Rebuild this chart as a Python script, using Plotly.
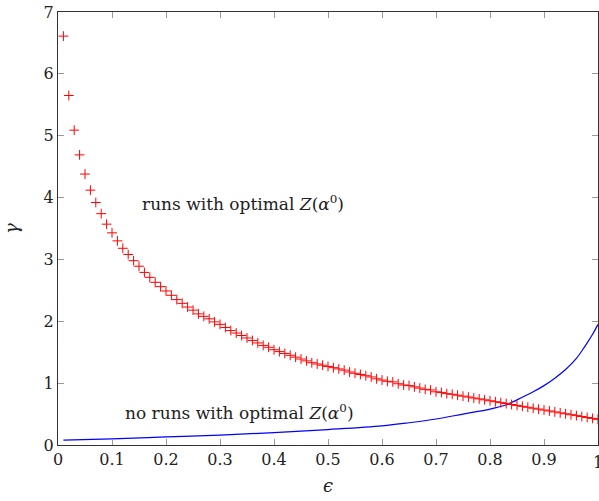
import plotly.graph_objects as go

# red "+" markers: epsilon = 0.01 ... 1.00
eps_runs = [round(0.01 * k, 2) for k in range(1, 101)]
gamma_runs = [
    6.61, 5.65, 5.09, 4.69, 4.38, 4.12, 3.92, 3.74, 3.57, 3.43,
    3.30, 3.18, 3.08, 2.98, 2.89, 2.79, 2.71, 2.63, 2.56, 2.49,
    2.42, 2.35, 2.29, 2.23, 2.18, 2.12, 2.08, 2.04, 1.99, 1.95,
    1.90, 1.85, 1.81, 1.77, 1.73, 1.69, 1.65, 1.61, 1.58, 1.54,
    1.51, 1.48, 1.45, 1.42, 1.39, 1.36, 1.33, 1.31, 1.29, 1.27,
    1.25, 1.23, 1.21, 1.18, 1.16, 1.14, 1.12, 1.10, 1.07, 1.05,
    1.03, 1.02, 0.99, 0.97, 0.96, 0.94, 0.92, 0.90, 0.89, 0.86,
    0.85, 0.83, 0.82, 0.805, 0.79, 0.775, 0.76, 0.745, 0.73, 0.715,
    0.70, 0.685, 0.67, 0.655, 0.64, 0.625, 0.61, 0.595, 0.58, 0.565,
    0.55, 0.535, 0.52, 0.505, 0.49, 0.475, 0.46, 0.445, 0.43, 0.415,
]

# blue boundary curve
eps_curve = [0.01, 0.1, 0.2, 0.3, 0.4, 0.5, 0.6, 0.65, 0.7, 0.75, 0.8, 0.83,
             0.85, 0.88, 0.9, 0.92, 0.94, 0.96, 0.97, 0.98, 0.99, 1.0]
gamma_curve = [0.08, 0.10, 0.13, 0.16, 0.20, 0.25, 0.31, 0.36, 0.42, 0.50, 0.58, 0.65,
               0.73, 0.86, 0.96, 1.08, 1.22, 1.40, 1.52, 1.65, 1.79, 1.95]

x_ticks = [0, 0.1, 0.2, 0.3, 0.4, 0.5, 0.6, 0.7, 0.8, 0.9, 1]
x_labels = ["0", "0.1", "0.2", "0.3", "0.4", "0.5", "0.6", "0.7", "0.8", "0.9", "1"]
y_ticks = [0, 1, 2, 3, 4, 5, 6, 7]

label_top = "runs with optimal <i>Z</i>(<i>α</i><sup>0</sup>)"
label_bottom = "no runs with optimal <i>Z</i>(<i>α</i><sup>0</sup>)"

FONT = "DejaVu Serif"
INK = "#222"

fig = go.Figure()
fig.add_trace(go.Scatter(
    x=eps_curve, y=gamma_curve, mode="lines",
    line=dict(color="blue", width=1.2, shape="spline"),
    showlegend=False, hoverinfo="skip",
))
fig.add_trace(go.Scatter(
    x=eps_runs, y=gamma_runs, mode="markers",
    marker=dict(symbol="cross-thin", size=7, color="red",
                line=dict(color="red", width=1)),
    showlegend=False,
))

fig.add_annotation(x=0.343, y=3.91, text=label_top, showarrow=False,
                   font=dict(family=FONT, size=17, color=INK))
fig.add_annotation(x=0.337, y=0.54, text=label_bottom, showarrow=False,
                   font=dict(family=FONT, size=17, color=INK))
# the last x tick label sits on the window edge (partly cut, as in the reference)
fig.add_annotation(x=x_ticks[-1], xref="x", y=0, yref="paper", yshift=-6,
                   yanchor="top", text=x_labels[-1], showarrow=False,
                   font=dict(family=FONT, size=16, color=INK))

axis_common = dict(
    showgrid=False, zeroline=False, showline=True, linecolor="#333", linewidth=1,
    mirror="allticks", ticks="inside", ticklen=6, tickcolor="#999", tickwidth=1,
    tickfont=dict(family=FONT, size=16, color=INK),
)

fig.update_xaxes(range=[0, 1], tickvals=x_ticks[:-1], ticktext=x_labels[:-1],
                 title=dict(text="<i>ϵ</i>", font=dict(family=FONT, size=18, color=INK), standoff=11),
                 **axis_common)
fig.update_yaxes(range=[0, 7], tickvals=y_ticks,
                 title=dict(text="<i>γ</i>", font=dict(family=FONT, size=18, color=INK), standoff=20),
                 **axis_common)

fig.update_layout(
    width=599, height=501,
    margin=dict(l=58, r=1, t=12, b=56, autoexpand=False),
    plot_bgcolor="white", paper_bgcolor="white",
    font=dict(family=FONT),
)

# remove the default page margin so the 599x501 figure fills the window exactly
fig.write_html("out.html", config={"displayModeBar": False},
               post_script="document.body.style.margin='0';document.body.style.overflow='hidden';")
